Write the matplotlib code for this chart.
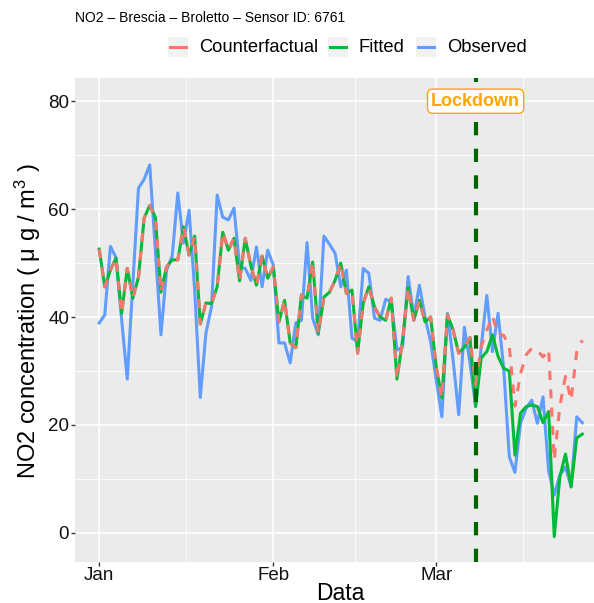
import pandas as pd
import matplotlib
matplotlib.use('Agg')
import matplotlib.pyplot as plt
import matplotlib.dates as mdates
from matplotlib.patches import Rectangle
from matplotlib.lines import Line2D

plt.rcParams['font.family'] = ['Liberation Sans', 'DejaVu Sans']
plt.rcParams['mathtext.fontset'] = 'custom'
plt.rcParams['mathtext.rm'] = 'Liberation Sans'
plt.rcParams['mathtext.it'] = 'Liberation Sans:italic'

# ---- data (daily NO2, Brescia - Broletto) ----
start_date = '2020-01-01'
lockdown_date = '2020-03-08'

observed = [
    38.9, 40.4, 53.1, 51.0, 39.5, 28.5, 46.3, 63.9, 65.5, 68.2,
    52.4, 36.7, 48.7, 51.3, 63.0, 53.7, 59.8, 45.0, 25.1, 37.0,
    41.9, 62.6, 58.5, 58.0, 60.2, 49.3, 49.0, 46.8, 53.0, 45.6,
    52.4, 49.6, 35.2, 35.2, 31.5, 38.9, 39.4, 53.8, 39.8, 36.7,
    55.0, 53.5, 51.8, 45.6, 48.7, 36.1, 35.4, 49.0, 48.1, 39.8,
    39.4, 43.3, 42.8, 33.9, 34.4, 47.5, 40.0, 45.9, 40.0, 35.4,
    28.3, 21.5, 40.7, 32.0, 21.9, 38.1, 31.5, 23.5, 34.5, 44.0,
    33.6, 40.7, 30.5, 14.1, 11.2, 20.3, 23.1, 24.6, 20.3, 25.2,
    11.5, 7.0, 10.7, 12.2, 8.6, 21.5, 20.4,
]

fitted = [
    52.6, 45.6, 48.7, 50.9, 40.7, 49.0, 43.5, 47.4, 58.3, 60.7,
    58.5, 44.6, 49.3, 50.6, 50.6, 56.7, 51.5, 55.0, 38.7, 42.6,
    42.5, 45.6, 55.7, 52.4, 54.6, 46.7, 54.6, 49.5, 45.9, 51.3,
    47.2, 49.3, 39.1, 43.1, 35.2, 34.3, 44.1, 43.5, 50.2, 37.0,
    43.7, 44.6, 46.8, 50.0, 44.4, 45.0, 33.3, 42.6, 45.6, 41.9,
    40.0, 39.4, 43.5, 28.5, 35.7, 45.4, 39.4, 43.1, 39.1, 40.0,
    30.7, 25.0, 40.4, 37.6, 33.3, 34.4, 36.2, 23.4, 32.4, 33.6,
    36.7, 32.7, 30.5, 30.0, 14.4, 22.2, 23.4, 23.7, 23.4, 20.4,
    22.5, -0.7, 10.4, 14.6, 8.5, 17.6, 18.3,
]

# counterfactual equals the fitted series until the lockdown day
counterfactual_after = [
    27.5, 34.5, 37.6, 40.2, 36.8, 36.6, 34.5, 23.5, 29.5, 33.0,
    34.2, 33.8, 32.6, 34.0, 13.5, 23.5, 29.0, 24.6, 33.5, 35.7,
]

series_names = ['Counterfactual', 'Fitted', 'Observed']
series_colors = ['#F8766D', '#00BA38', '#619CFF']

dates = pd.date_range(start_date, periods=len(observed))
lockdown = pd.Timestamp(lockdown_date)
n_pre = len(observed) - len(counterfactual_after)
counterfactual = fitted[:n_pre] + counterfactual_after

# ---- figure ----
W, H = 594, 603
fig = plt.figure(figsize=(W / 100, H / 100), dpi=100)
ax = fig.add_axes([75 / W, 1 - 562 / H, (606.5 - 75) / W, (562 - 78) / H])
ax.set_facecolor('#EBEBEB')
for s in ax.spines.values():
    s.set_visible(False)

x = mdates.date2num(dates.to_pydatetime())
xl = mdates.date2num(lockdown.to_pydatetime())
pad = (x[-1] - x[0]) * 0.05
ax.set_xlim(x[0] - pad, x[-1] + pad)
ax.set_ylim(-5.4, 84.3)

# ggplot-like grid
major_x = [mdates.date2num(pd.Timestamp(d).to_pydatetime())
           for d in ['2020-01-01', '2020-02-01', '2020-03-01']]
apr = mdates.date2num(pd.Timestamp('2020-04-01').to_pydatetime())
edges = major_x + [apr]
minor_x = [(a + b) / 2 for a, b in zip(edges[:-1], edges[1:])]
ax.set_xticks(major_x)
ax.set_xticklabels(['Jan', 'Feb', 'Mar'])
ax.set_xticks(minor_x, minor=True)
ax.set_yticks([0, 20, 40, 60, 80])
ax.set_yticks([10, 30, 50, 70], minor=True)
ax.grid(which='major', color='white', lw=1.2)
ax.grid(which='minor', color='white', lw=0.6)
ax.set_axisbelow(True)
ax.tick_params(which='major', length=2.8, width=1, color='#333333',
               labelsize=13.5, labelcolor='#111111')
ax.tick_params(axis='x', which='major', pad=0.5)
ax.tick_params(axis='y', which='major', pad=1.5)
ax.tick_params(which='minor', length=0)

# series
ax.plot(x, observed, color=series_colors[2], lw=2.2, zorder=3)
ax.plot(x, fitted, color=series_colors[1], lw=2.2, zorder=4)
ax.plot(x, counterfactual, color=series_colors[0], lw=2.2,
        ls=(0, (3, 3)), zorder=5)

# lockdown marker
ax.axvline(xl, color='#006400', lw=3, ls=(0, (3.2, 3.2)), zorder=6)
ax.text(xl, 80, 'Lockdown', color='#FFA500', fontweight='bold',
        fontsize=13, ha='center', va='center', zorder=7,
        bbox=dict(boxstyle='round,pad=0.2,rounding_size=0.3',
                  fc='white', ec='#FFA500', lw=1))

# labels
fig.text(75 / W, 1 - 18 / H, 'NO2 \u2013 Brescia \u2013 Broletto \u2013 Sensor ID: 6761',
         fontsize=10, ha='left', va='center')
fig.text(340 / W, 1 - 593 / H, 'Data', fontsize=16.5, ha='center', va='center')
fig.text(28 / W, 1 - 321 / H, 'NO2 concentration ( \u03bc g / m$^{3}$ )',
         fontsize=17, rotation=90, ha='center', va='center')

# legend drawn ggplot-style (grey key boxes)
key_left = [168, 328, 416]
for name, col, kx in zip(series_names, series_colors, key_left):
    fig.add_artist(Rectangle((kx / W, 1 - 57 / H), 20 / W, 20 / H,
                             transform=fig.transFigure, fc='#F2F2F2', ec='none'))
    fig.add_artist(Line2D([(kx + 2) / W, (kx + 18) / W], [1 - 47 / H, 1 - 47 / H],
                          transform=fig.transFigure, color=col, lw=2.2))
    fig.text((kx + 31) / W, 1 - 47 / H, name, fontsize=13.2,
             ha='left', va='center')

fig.savefig('out.png', dpi=100)
